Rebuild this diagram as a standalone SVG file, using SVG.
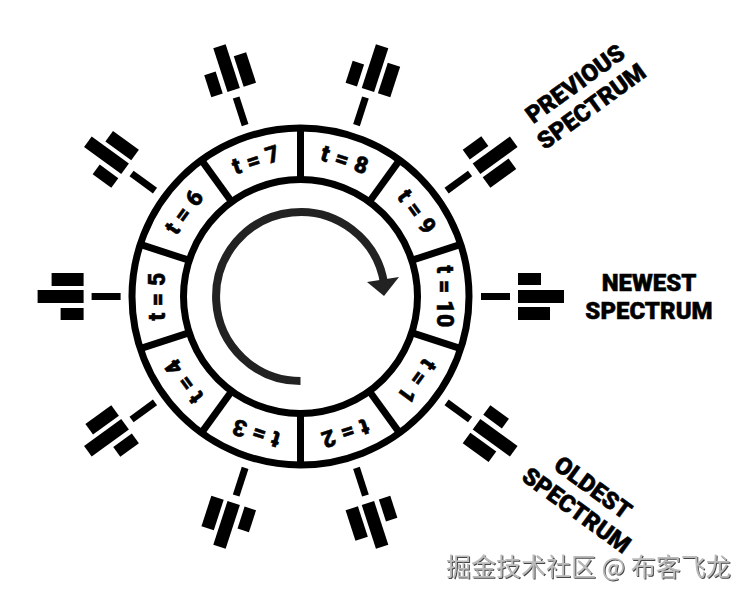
<svg xmlns="http://www.w3.org/2000/svg" xmlns:xlink="http://www.w3.org/1999/xlink" width="750" height="600" viewBox="0 0 750 600">
<style>
.ring{fill:none;stroke:#000;stroke-width:7}
.div{stroke:#000;stroke-width:7}
.t{font-family:Roboto,"Liberation Sans",sans-serif;font-weight:900;font-size:23px;text-anchor:middle;fill:#000;stroke:#000;stroke-width:.5;letter-spacing:.5px}
.lab{font-family:Roboto,"Liberation Sans",sans-serif;font-weight:900;font-size:24px;text-anchor:middle;fill:#000;stroke:#000;stroke-width:.5}
.wm{font-family:"Noto Sans CJK SC",sans-serif;font-size:25px;fill:#bbb;filter:url(#emb)}
</style>
<defs>
<filter id="emb" x="-5%" y="-20%" width="110%" height="140%"><feDropShadow dx="1" dy="1" stdDeviation="0.5" flood-color="#444"/></filter>
<g id="sat"><rect x="481" y="293" width="29" height="7"/><rect x="518" y="273" width="23" height="12"/><rect x="518" y="290" width="46" height="13"/><rect x="518" y="307" width="32" height="13"/></g>
</defs>
<rect width="750" height="600" fill="#fff"/>
<g id="dial">
<circle class="ring" cx="300.5" cy="296.5" r="168.5"/>
<circle class="ring" cx="300.5" cy="296.5" r="117"/>
<g id="dividers"><line class="div" x1="300.5" y1="179" x2="300.5" y2="128"/>
<line class="div" x1="300.5" y1="179" x2="300.5" y2="128" transform="rotate(36 300.5 296.5)"/>
<line class="div" x1="300.5" y1="179" x2="300.5" y2="128" transform="rotate(72 300.5 296.5)"/>
<line class="div" x1="300.5" y1="179" x2="300.5" y2="128" transform="rotate(108 300.5 296.5)"/>
<line class="div" x1="300.5" y1="179" x2="300.5" y2="128" transform="rotate(144 300.5 296.5)"/>
<line class="div" x1="300.5" y1="179" x2="300.5" y2="128" transform="rotate(180 300.5 296.5)"/>
<line class="div" x1="300.5" y1="179" x2="300.5" y2="128" transform="rotate(216 300.5 296.5)"/>
<line class="div" x1="300.5" y1="179" x2="300.5" y2="128" transform="rotate(252 300.5 296.5)"/>
<line class="div" x1="300.5" y1="179" x2="300.5" y2="128" transform="rotate(288 300.5 296.5)"/>
<line class="div" x1="300.5" y1="179" x2="300.5" y2="128" transform="rotate(324 300.5 296.5)"/></g>
</g>
<g id="slots">
<text class="t" x="300.5" y="160.5" transform="rotate(-18 300.5 296.5)">t = 7</text>
<text class="t" x="300.5" y="160.5" transform="rotate(18 300.5 296.5)">t = 8</text>
<text class="t" x="300.5" y="160.5" transform="rotate(54 300.5 296.5)">t = 9</text>
<text class="t" x="300.5" y="160.5" transform="rotate(90 300.5 296.5)">t = 10</text>
<text class="t" x="300.5" y="160.5" transform="rotate(126 300.5 296.5)">t = 1</text>
<text class="t" x="300.5" y="160.5" transform="rotate(162 300.5 296.5)">t = 2</text>
<text class="t" x="300.5" y="160.5" transform="rotate(198 300.5 296.5)">t = 3</text>
<text class="t" x="300.5" y="160.5" transform="rotate(234 300.5 296.5)">t = 4</text>
<text class="t" x="300.5" y="160.5" transform="rotate(270 300.5 296.5)">t = 5</text>
<text class="t" x="300.5" y="160.5" transform="rotate(306 300.5 296.5)">t = 6</text>
</g>
<g id="sweep">
<path d="M300.5 381A84.5 84.5 0 1 1 384 283" fill="none" stroke="#222" stroke-width="8"/>
<polygon points="367,282 399,277 384,296" fill="#222"/>
</g>
<g id="sat-18"><use xlink:href="#sat" href="#sat" transform="rotate(-72 300.8 296.5)"/></g>
<g id="sat-54"><use xlink:href="#sat" href="#sat" transform="rotate(-36 300.8 296.5)"/></g>
<g id="sat-90"><use xlink:href="#sat" href="#sat"/></g>
<g id="sat-126"><use xlink:href="#sat" href="#sat" transform="rotate(36 300.8 296.5)"/></g>
<g id="sat-162"><use xlink:href="#sat" href="#sat" transform="rotate(72 300.8 296.5)"/></g>
<g id="sat-198"><use xlink:href="#sat" href="#sat" transform="rotate(108 300.8 296.5)"/></g>
<g id="sat-234"><use xlink:href="#sat" href="#sat" transform="rotate(144 300.8 296.5)"/></g>
<g id="sat-270"><use xlink:href="#sat" href="#sat" transform="rotate(180 300.8 296.5)"/></g>
<g id="sat-306"><use xlink:href="#sat" href="#sat" transform="rotate(216 300.8 296.5)"/></g>
<g id="sat-342"><use xlink:href="#sat" href="#sat" transform="rotate(252 300.8 296.5)"/></g>
<g id="labels">
<text class="lab" x="649" y="291">NEWEST</text>
<text class="lab" x="649" y="319">SPECTRUM</text>
<g transform="translate(584 96) rotate(-36)"><text class="lab" x="0" y="-7">PREVIOUS</text><text class="lab" x="0" y="21">SPECTRUM</text></g>
<g transform="translate(584 500) rotate(36)"><text class="lab" x="0" y="-7">OLDEST</text><text class="lab" x="0" y="21">SPECTRUM</text></g>
</g>
<text class="wm" x="446" y="576">掘金技术社区 @ 布客飞龙</text>
</svg>
